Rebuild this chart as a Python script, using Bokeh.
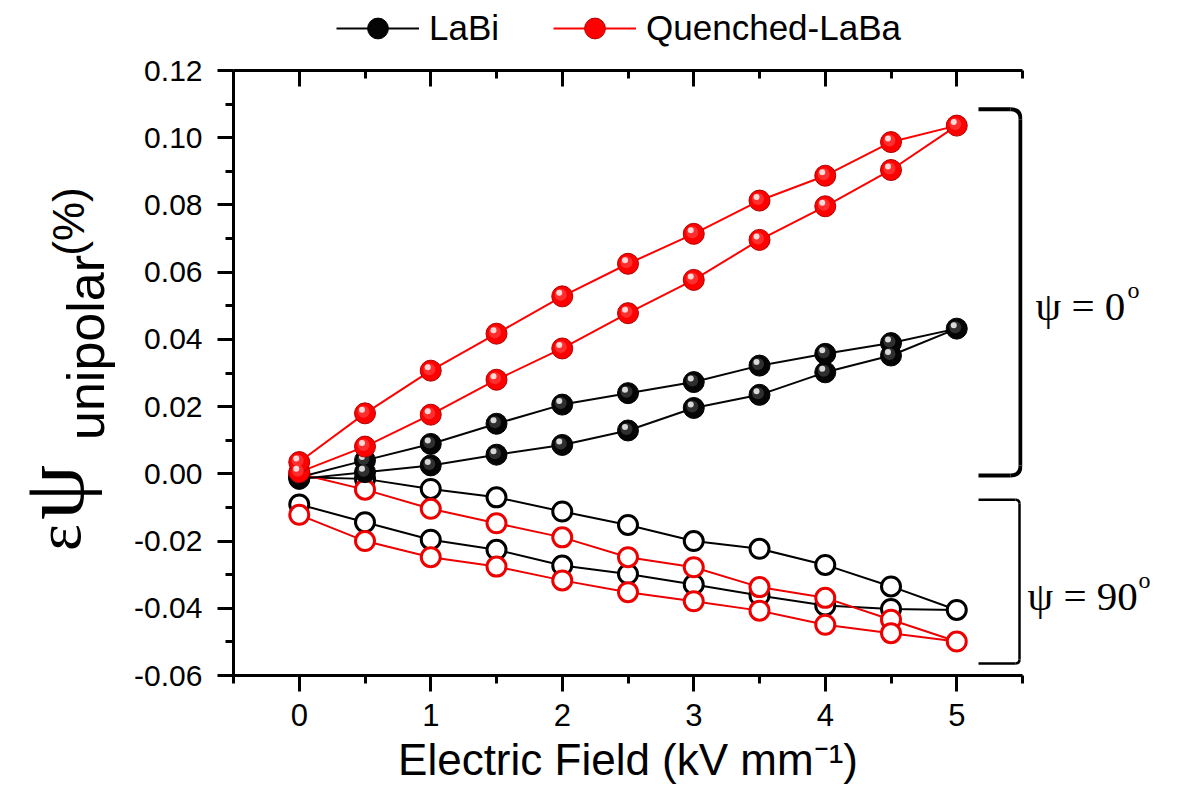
import math
from bokeh.plotting import figure
from bokeh.layouts import row, column
from bokeh.models import (Range1d, LinearAxis, FixedTicker, NumeralTickFormatter,
                          Legend, LegendItem, CustomJSTickFormatter)
from bokeh.core.properties import value
from bokeh.embed import file_html
from bokeh.resources import INLINE

# ---------------- data ----------------
field = [0, 0.5, 1, 1.5, 2, 2.5, 3, 3.5, 4, 4.5, 5]

# psi = 0 (filled markers): rising branch 0->5, falling branch 4.5->0
labi_0_rise = [-0.0015, 0.0005, 0.0025, 0.0057, 0.0086, 0.0129, 0.0196, 0.0235, 0.0302, 0.0352, 0.0432]
labi_0_fall = [0.0389, 0.0357, 0.0322, 0.0273, 0.0240, 0.0206, 0.0149, 0.0089, 0.0040, -0.0010]
laba_0_rise = [0.0005, 0.0081, 0.0176, 0.0280, 0.0373, 0.0478, 0.0577, 0.0696, 0.0796, 0.0904, 0.1036]
laba_0_fall = [0.0987, 0.0887, 0.0813, 0.0714, 0.0625, 0.0528, 0.0417, 0.0307, 0.0180, 0.0035]

# psi = 90 (open markers)
labi_90_rise = [-0.0010, -0.0015, -0.0045, -0.0070, -0.0112, -0.0152, -0.0200, -0.0223, -0.0271, -0.0335, -0.0405]
labi_90_fall = [-0.0402, -0.0392, -0.0362, -0.0329, -0.0298, -0.0273, -0.0226, -0.0196, -0.0144, -0.0091]
laba_90_rise = [0.0000, -0.0047, -0.0104, -0.0147, -0.0189, -0.0248, -0.0278, -0.0337, -0.0369, -0.0434, -0.0499]
laba_90_fall = [-0.0474, -0.0449, -0.0407, -0.0379, -0.0352, -0.0317, -0.0276, -0.0248, -0.0200, -0.0122]

series_names = ["LaBi", "Quenched-LaBa"]
x_major = [0, 1, 2, 3, 4, 5]
x_minor = [-0.5, 0.5, 1.5, 2.5, 3.5, 4.5, 5.5]
y_major = [-0.06, -0.04, -0.02, 0.0, 0.02, 0.04, 0.06, 0.08, 0.10, 0.12]
y_minor = [-0.05, -0.03, -0.01, 0.01, 0.03, 0.05, 0.07, 0.09, 0.11]

# bracket extents (data y) and captions
bracket0 = (0.1085, -0.0005)
bracket90 = (-0.0077, -0.0564)
caption0 = ("\u03c8 = 0", "o")
caption90 = ("\u03c8 = 90", "o")

# ---------------- geometry ----------------
W, H = 1203, 798
TOP_H = 50                             # strip holding the legend
FL, FR, FT, FB = 233, 1022, 70, 675   # frame in canvas pixels
LEFT_W = 118                           # left strip holding the y label
RIGHT_X = 1024                         # right strip holding the captions
X0, X1, Y0, Y1 = -0.5, 5.5, -0.06, 0.12
sx = (FR - FL) / (X1 - X0)
sy = (FB - FT) / (Y1 - Y0)

def px2x(px):
    return X0 + (px - FL) / sx

def y2px(y):
    return FB - (y - Y0) * sy

def clean(f):
    f.xgrid.visible = False
    f.ygrid.visible = False
    f.outline_line_color = None
    f.background_fill_color = "white"
    f.border_fill_color = "white"

main_w = RIGHT_X - LEFT_W
p = figure(width=main_w, height=H - TOP_H, x_range=Range1d(X0, X1), y_range=Range1d(Y0, Y1),
           output_backend="svg", toolbar_location=None,
           min_border_left=FL - LEFT_W, min_border_right=RIGHT_X - FR,
           min_border_top=FT - TOP_H, min_border_bottom=H - FB)
clean(p)

xt = FixedTicker(ticks=x_major, minor_ticks=x_minor)
yt = FixedTicker(ticks=y_major, minor_ticks=y_minor)
p.xaxis.ticker = xt
p.yaxis.ticker = yt
p.yaxis.formatter = NumeralTickFormatter(format="0.00")

def style_axis(ax, inward=False):
    ax.axis_line_width = 3
    ax.major_tick_line_width = 3
    ax.minor_tick_line_width = 3
    if inward:
        ax.major_tick_in, ax.major_tick_out = 16, 0
        ax.minor_tick_in, ax.minor_tick_out = 8, 0
    else:
        ax.major_tick_in, ax.major_tick_out = 0, 16
        ax.minor_tick_in, ax.minor_tick_out = 0, 8
    ax.major_label_text_font = "Liberation Sans"
    ax.major_label_text_color = "black"

style_axis(p.xaxis[0])
style_axis(p.yaxis[0])
p.xaxis.major_label_text_font_size = "31px"
p.yaxis.major_label_text_font_size = "30px"
p.xaxis.major_label_standoff = 12
p.yaxis.major_label_standoff = 15
p.xaxis.axis_label = "Electric Field (kV mm\u207b\u00b9)"
p.xaxis.axis_label_text_font = "Liberation Sans"
p.xaxis.axis_label_text_font_size = "44px"
p.xaxis.axis_label_text_font_style = "normal"
p.xaxis.axis_label_text_color = "black"
p.xaxis.axis_label_standoff = 6
p.yaxis.axis_label = None

top = LinearAxis(ticker=xt, formatter=CustomJSTickFormatter(code="return ''"))
style_axis(top, inward=True)
top.major_label_standoff = 0
p.add_layout(top, "above")

# ---------------- series ----------------
dxp = 1.0 / sx   # one pixel in data units
dyp = 1.0 / sy

loop_x = field + field[::-1][1:]

def open_series(rise, fall, color):
    ys = rise + fall
    p.line(loop_x, ys, line_color=color, line_width=2)
    p.scatter(loop_x, ys, marker="circle", size=19, fill_color="white",
              line_color=color, line_width=3)

def sphere_series(rise, fall, color, edge, mid, hi):
    ys = rise + fall
    p.line(loop_x, ys, line_color=color, line_width=2)
    p.scatter(loop_x, ys, marker="circle", size=21, fill_color=color,
              line_color=edge, line_width=1)
    mx = [x - 1.5 * dxp for x in loop_x]
    my = [y + 1.5 * dyp for y in ys]
    p.scatter(mx, my, marker="circle", size=12, fill_color=mid, fill_alpha=0.8,
              line_color=None)
    hx = [x - 3 * dxp for x in loop_x]
    hy = [y + 3.5 * dyp for y in ys]
    p.scatter(hx, hy, marker="circle", size=6, fill_color=hi, line_color=None)

SPHERES = [("#050505", "#000000", "#3a3a3a", "#d8d8d8"),
           ("#ff0000", "#b00000", "#ff3a3a", "#ffd8d8")]
FILLED = [(labi_0_rise, labi_0_fall), (laba_0_rise, laba_0_fall)]

open_series(labi_90_rise, labi_90_fall, "black")
open_series(laba_90_rise, laba_90_fall, "#ee0000")
for (rise, fall), style in zip(FILLED, SPHERES):
    sphere_series(rise, fall, *style)

# ---------------- brackets ----------------
def bracket(ytop, ybot, xl_px, xr_px, r_px, lw):
    xl, xr = px2x(xl_px), px2x(xr_px)
    rx, ry = r_px * dxp, r_px * dyp
    p.segment(x0=[xl, xr, xl], y0=[ytop, ytop - ry, ybot],
              x1=[xr - rx, xr, xr - rx], y1=[ytop, ybot + ry, ybot],
              line_color="black", line_width=lw)
    p.quadratic(x0=[xr - rx, xr], y0=[ytop, ybot + ry], x1=[xr, xr - rx],
                y1=[ytop - ry, ybot], cx=[xr, xr], cy=[ytop, ybot],
                line_color="black", line_width=lw)

bracket(bracket0[0], bracket0[1], 978, 1020, 10, 4)
bracket(bracket90[0], bracket90[1], 978, 1019, 4, 2.5)

# ---------------- strips for text outside the frame ----------------
def strip(x_from, x_to, height, y_bottom, y_top, bt, bb):
    f = figure(width=x_to - x_from, height=height, x_range=Range1d(x_from, x_to),
               y_range=Range1d(y_bottom, y_top), output_backend="svg",
               toolbar_location=None, x_axis_type=None, y_axis_type=None,
               min_border_left=0, min_border_right=0,
               min_border_top=bt, min_border_bottom=bb)
    clean(f)
    return f

# side strips share the main frame's vertical borders; y data = canvas pixel y
left = strip(0, LEFT_W, H - TOP_H, FB, FT, FT - TOP_H, H - FB)
right = strip(RIGHT_X, W, H - TOP_H, FB, FT, FT - TOP_H, H - FB)
head = strip(0, W, TOP_H, TOP_H, 0, 0, 0)

def txt(f, text, x, y, size, font, angle=0.0, align="left"):
    f.text(x=[x], y=[y], text=[text], angle=angle, text_font=value(font),
           text_font_size=f"{size}px", text_color="black", text_align=align,
           text_baseline="alphabetic")

a = math.pi / 2
txt(left, "\u03b5", 58, 537, 64, "Liberation Serif", a, "center")
txt(left, "\u03c8", 53, 492, 88, "Liberation Serif", a, "center")
txt(left, "unipolar", 85, 347, 52, "Liberation Sans", a, "center")
txt(left, "(%)", 68, 221, 44, "Liberation Sans", a, "center")

mid0 = y2px((bracket0[0] + bracket0[1]) / 2)
mid90 = y2px((bracket90[0] + bracket90[1]) / 2)
txt(right, caption0[0], 1035, mid0 + 14, 41, "Liberation Serif")
txt(right, caption0[1], 1127, mid0 - 2, 24, "Liberation Serif")
txt(right, caption90[0], 1027, mid90 + 14, 41, "Liberation Serif")
txt(right, caption90[1], 1138, mid90 - 2, 24, "Liberation Serif")

# ---------------- legend in the head strip ----------------
# the series are drawn on an off-screen range of the head strip so that the
# legend can show their glyphs
head.extra_y_ranges = {"offscreen": Range1d(10, 11)}
items = []
for name, (rise, fall), (c, e, _, _) in zip(series_names, FILLED, SPHERES):
    ys = rise + fall
    ln = head.line(loop_x, ys, line_color=c, line_width=2, y_range_name="offscreen")
    mk = head.scatter(loop_x, ys, marker="circle", size=21, fill_color=c,
                      line_color=e, line_width=1, y_range_name="offscreen")
    items.append(LegendItem(label=name, renderers=[ln, mk]))
legend = Legend(items=items, orientation="horizontal", location=(336, -4),
                glyph_width=83, glyph_height=52, label_standoff=10, spacing=54,
                padding=0, margin=0, border_line_color=None,
                background_fill_alpha=0, label_text_font="Liberation Sans",
                label_text_font_size="35px", label_text_color="black")
head.add_layout(legend, "center")

layout = column(head, row(left, p, right, spacing=0), spacing=0)
open("out.html", "w").write(file_html(layout, INLINE))
